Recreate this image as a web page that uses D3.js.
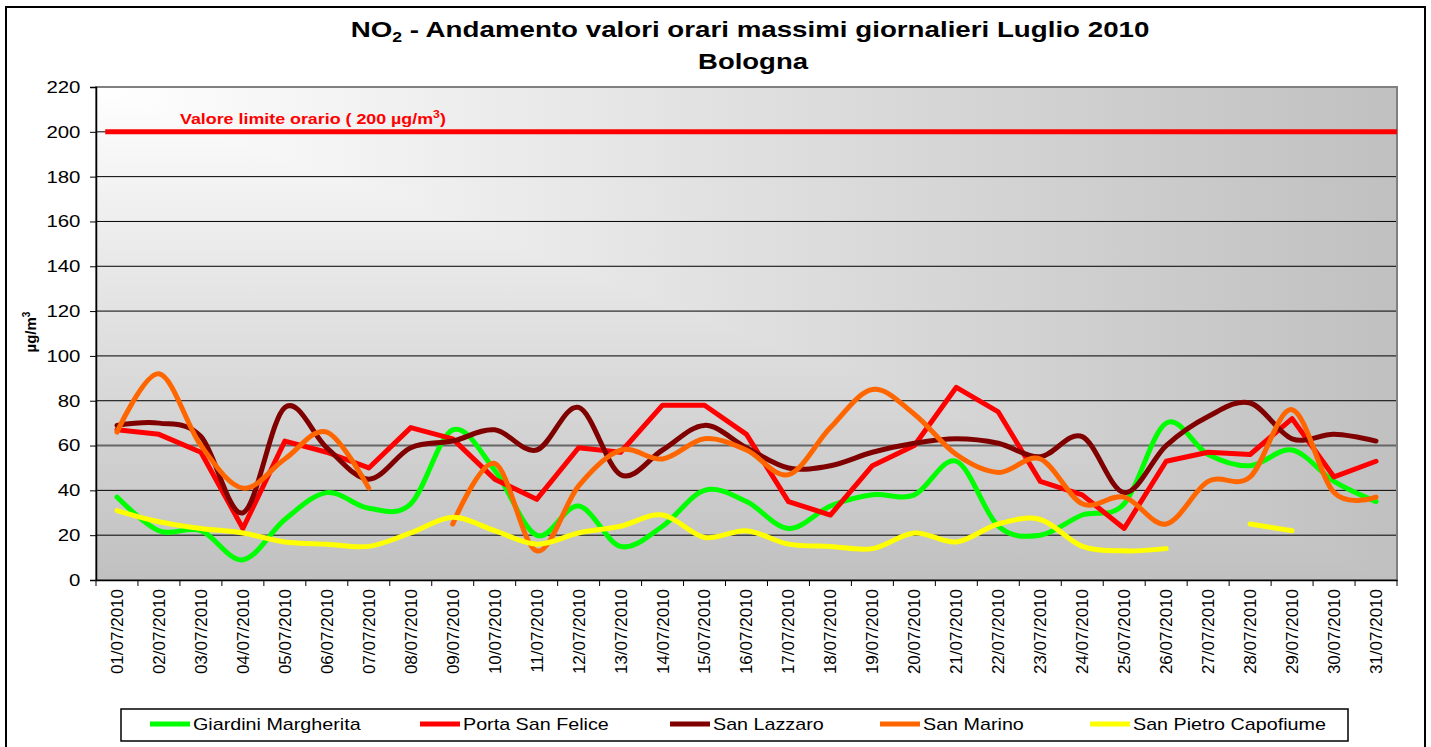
<!DOCTYPE html>
<html>
<head>
<meta charset="utf-8">
<script src="https://cdn.jsdelivr.net/npm/d3@7"></script>
<style>
  body { margin: 0; background: #fff; }
  svg { display: block; font-family: "Liberation Sans", Arial, sans-serif; }
</style>
</head>
<body>
<div id="chart"></div>
<script>
// dati: valori orari massimi giornalieri NO2, luglio 2010 (µg/m3)
var dates = ["01/07/2010","02/07/2010","03/07/2010","04/07/2010","05/07/2010","06/07/2010","07/07/2010","08/07/2010",
  "09/07/2010","10/07/2010","11/07/2010","12/07/2010","13/07/2010","14/07/2010","15/07/2010","16/07/2010",
  "17/07/2010","18/07/2010","19/07/2010","20/07/2010","21/07/2010","22/07/2010","23/07/2010","24/07/2010",
  "25/07/2010","26/07/2010","27/07/2010","28/07/2010","29/07/2010","30/07/2010","31/07/2010"];
var giardiniMargherita = [37,22,22,9,27,39,32,34,67,49,20,33,15,24,40,35,23,33,38,38,53,24,20,29,34,70,56,51,58,44,35];
var portaSanFelice = [67,65,57,23,62,57,50,68,63,45,36,59,57,78,78,65,35,29,51,60,86,75,44,38,23,53,57,56,72,46,53];
var sanLazzaro = [69,70,64,30,77,59,45,59,62,67,58,77,47,58,69,59,50,51,57,61,63,61,55,64,39,60,73,79,63,65,62];
var sanMarino = [66,92,60,41,54,66,41,null,25,52,13,42,58,54,63,58,47,68,85,74,56,48,54,34,37,25,44,46,76,39,37];
var sanPietroCapofiume = [31,26,23,21,17,16,15,21,28,22,16,21,24,29,19,22,16,15,14,21,17,25,27,15,13,14,null,25,22,null,null];
var limiteOrario = 200;
var yTicks = [0,20,40,60,80,100,120,140,160,180,200,220];

var series = [
  {name: "Giardini Margherita", values: giardiniMargherita, color: "#00ff00", smooth: true},
  {name: "Porta San Felice", values: portaSanFelice, color: "#ff0000", smooth: false},
  {name: "San Lazzaro", values: sanLazzaro, color: "#800000", smooth: true},
  {name: "San Marino", values: sanMarino, color: "#ff6600", smooth: true},
  {name: "San Pietro Capofiume", values: sanPietroCapofiume, color: "#ffff00", smooth: true}
];

var W = 1431, H = 747;
var margin = {top: 87, right: 34, bottom: 167, left: 96};

var svg = d3.select("#chart").append("svg").attr("width", W).attr("height", H);
var defs = svg.append("defs");

// sfondo sfumato "dall'angolo": due gradienti combinati con darken
var gh = defs.append("linearGradient").attr("id", "gh").attr("x1", 0).attr("y1", 0).attr("x2", 1).attr("y2", 0);
gh.append("stop").attr("offset", 0).attr("stop-color", "#ffffff");
gh.append("stop").attr("offset", 1).attr("stop-color", "#c0c0c0");
var gv = defs.append("linearGradient").attr("id", "gv").attr("x1", 0).attr("y1", 0).attr("x2", 0).attr("y2", 1);
gv.append("stop").attr("offset", 0).attr("stop-color", "#ffffff");
gv.append("stop").attr("offset", 1).attr("stop-color", "#c0c0c0");

var x = d3.scaleBand().domain(dates).range([margin.left, W - margin.right]);
var y = d3.scaleLinear().domain([0, 220]).range([H - margin.bottom, margin.top]);
var cx = function(d) { return x(d) + x.bandwidth() / 2; };

// bordo esterno
svg.append("rect").attr("x", 6).attr("y", 7).attr("width", 1419).attr("height", 800)
  .attr("fill", "none").attr("stroke", "#000").attr("stroke-width", 2);

var bg = svg.append("g").style("isolation", "isolate");
bg.append("rect").attr("x", x.range()[0]).attr("y", y(220)).attr("width", x.range()[1] - x.range()[0])
  .attr("height", y(0) - y(220)).attr("fill", "url(#gh)");
bg.append("rect").attr("x", x.range()[0]).attr("y", y(220)).attr("width", x.range()[1] - x.range()[0])
  .attr("height", y(0) - y(220)).attr("fill", "url(#gv)").style("mix-blend-mode", "darken");

// griglia
svg.append("g").selectAll("line").data(yTicks.filter(function(t) { return t > 0 && t < 220; }))
  .enter().append("line")
  .attr("x1", x.range()[0]).attr("x2", x.range()[1])
  .attr("y1", function(d) { return y(d); }).attr("y2", function(d) { return y(d); })
  .attr("stroke", function(d) { return d === 60 ? "#666" : "#000"; })
  .attr("stroke-width", function(d) { return d === 60 ? 2 : 1; });

// bordo area grafico
svg.append("rect").attr("x", x.range()[0]).attr("y", y(220)).attr("width", x.range()[1] - x.range()[0])
  .attr("height", y(0) - y(220)).attr("fill", "none").attr("stroke", "#808080").attr("stroke-width", 2);

// assi
var yAxis = svg.append("g").attr("transform", "translate(" + x.range()[0] + ",0)")
  .call(d3.axisLeft(y).tickValues(yTicks).tickSize(6).tickPadding(10));
yAxis.select(".domain").attr("stroke", "#000").attr("stroke-width", 1.5);
yAxis.selectAll("text").style("font-size", "17px").attr("fill", "#000")
  .attr("x", -13).attr("transform", "scale(1.2,1)");

var xAxis = svg.append("g").attr("transform", "translate(0," + y(0) + ")")
  .call(d3.axisBottom(x).tickSize(0));
xAxis.select(".domain").attr("stroke", "#000").attr("stroke-width", 1.5);
xAxis.selectAll("text")
  .style("font-size", "17px").attr("fill", "#000")
  .attr("transform", "rotate(-90)")
  .attr("text-anchor", "end")
  .attr("x", -9).attr("y", 0).attr("dy", "0.35em");
svg.append("g").selectAll("line").data(dates.map(function(d) { return x(d); }).concat([x.range()[1]]))
  .enter().append("line")
  .attr("x1", function(d) { return d; }).attr("x2", function(d) { return d; })
  .attr("y1", y(0)).attr("y2", y(0) + 6).attr("stroke", "#000");

// linea valore limite
svg.append("line")
  .attr("x1", x.range()[0] + x.bandwidth() * 0.22).attr("x2", x.range()[1])
  .attr("y1", y(limiteOrario)).attr("y2", y(limiteOrario))
  .attr("stroke", "#ff0000").attr("stroke-width", 5);
var lt = svg.append("text").attr("transform", "translate(180," + (y(limiteOrario) - 8) + ") scale(1.23,1)")
  .attr("fill", "#ff0000").style("font-size", "14.5px").style("font-weight", "bold")
  .text("Valore limite orario ( " + limiteOrario + " µg/m");
lt.append("tspan").attr("dy", -6).style("font-size", "10px").text("3");
lt.append("tspan").attr("dy", 6).text(")");

// serie
series.forEach(function(s) {
  var line = d3.line()
    .defined(function(v) { return v !== null; })
    .x(function(v, i) { return cx(dates[i]); })
    .y(function(v) { return y(v); })
    .curve(s.smooth ? d3.curveCatmullRom.alpha(0) : d3.curveLinear);
  svg.append("path").datum(s.values)
    .attr("d", line)
    .attr("fill", "none").attr("stroke", s.color).attr("stroke-width", 5)
    .attr("stroke-linejoin", "round").attr("stroke-linecap", "round");
});

// titolo
var t1 = svg.append("text").attr("transform", "translate(750,37) scale(1.26,1)").attr("text-anchor", "middle")
  .style("font-size", "22px").style("font-weight", "bold").text("NO");
t1.append("tspan").attr("dy", 5).style("font-size", "14px").text("2");
t1.append("tspan").attr("dy", -5).text(" - Andamento valori orari massimi giornalieri Luglio 2010");
svg.append("text").attr("transform", "translate(753,69) scale(1.25,1)").attr("text-anchor", "middle")
  .style("font-size", "22px").style("font-weight", "bold").text("Bologna");

// etichetta asse y
var yl = svg.append("text").attr("transform", "translate(36,332) rotate(-90)").attr("text-anchor", "middle")
  .style("font-size", "15px").style("font-weight", "bold").text("µg/m");
yl.append("tspan").attr("dy", -6).style("font-size", "10px").text("3");

// legenda
var legend = svg.append("g");
legend.append("rect").attr("x", 121).attr("y", 709).attr("width", 1227).attr("height", 32)
  .attr("fill", "#fff").attr("stroke", "#000").attr("stroke-width", 1.5);
var legendX = [150, 420, 670, 880, 1090];
series.forEach(function(s, i) {
  var g = legend.append("g").attr("transform", "translate(" + legendX[i] + ",724)");
  g.append("line").attr("x1", 0).attr("x2", 40).attr("y1", 0).attr("y2", 0)
    .attr("stroke", s.color).attr("stroke-width", 5);
  g.append("text").attr("transform", "translate(43,0) scale(1.16,1)").attr("dy", "0.35em")
    .style("font-size", "17px").text(s.name);
});
</script>
</body>
</html>
